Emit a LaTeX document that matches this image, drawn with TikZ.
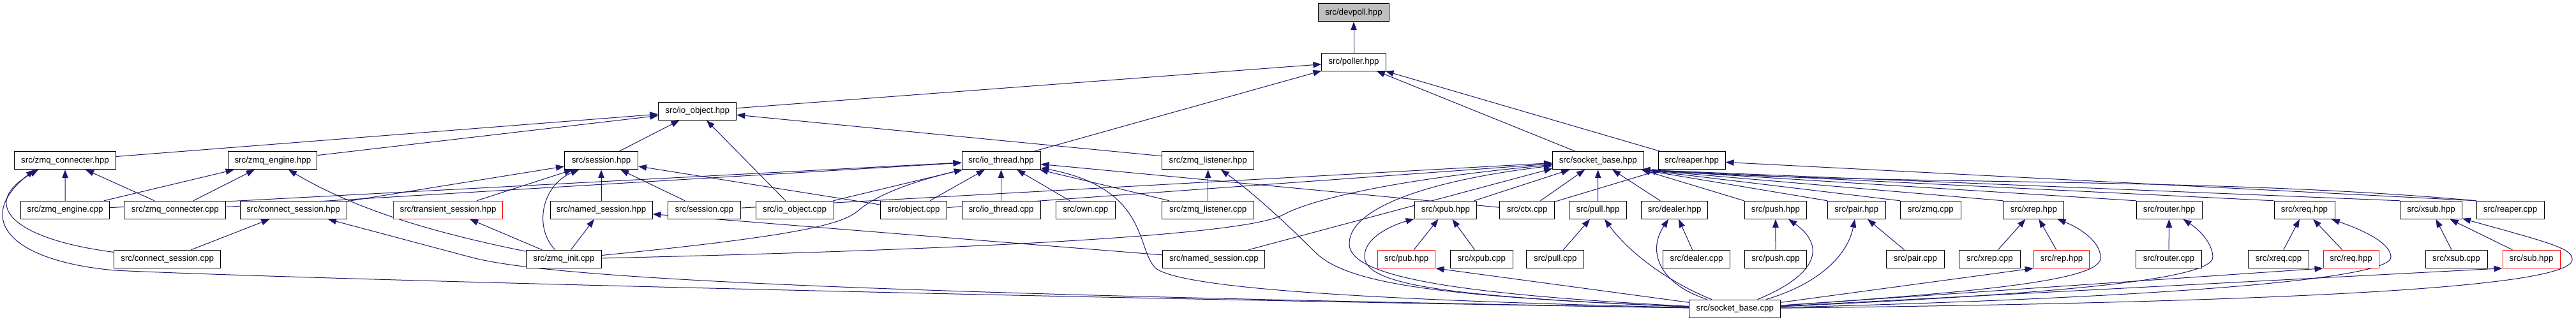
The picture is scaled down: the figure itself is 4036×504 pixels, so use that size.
\documentclass[tikz,border=0pt]{standalone}
\usepackage{fontspec}
\setmainfont{Liberation Sans}
\usetikzlibrary{arrows.meta}
\definecolor{edgecol}{HTML}{191970}
\definecolor{hilite}{HTML}{BFBFBF}
\pgfdeclarelayer{bg}
\pgfdeclarelayer{edges}
\pgfsetlayers{bg,edges,main}
\begin{document}
\begin{tikzpicture}[x=1pt,y=-1pt,
  box/.style={draw=black, line width=1pt, fill=white, minimum height=28pt, inner sep=0pt, font=\fontsize{13.3}{16}\selectfont},
  redbox/.style={box, draw=red},
  edge/.style={draw=edgecol, line width=1pt, -{Triangle[length=13pt,width=9.5pt]}}]
\begin{pgfonlayer}{bg}
\fill[white] (0,0) rectangle (4036,504);
\end{pgfonlayer}
\useasboundingbox (0,0) rectangle (4036,504);
% row 0-2
\node[box,fill=hilite,minimum width=110.5pt] (devpoll) at (2121,19.7) {src/devpoll.hpp};
\node[box,minimum width=100.3pt] (poller) at (2121,97) {src/poller.hpp};
\node[box,minimum width=122pt] (ioobjh) at (1092.7,174.3) {src/io\_object.hpp};
% row 3
\node[box,minimum width=159pt] (zconh) at (102,251.7) {src/zmq\_connecter.hpp};
\node[box,minimum width=139pt] (zengh) at (427.4,251.7) {src/zmq\_engine.hpp};
\node[box,minimum width=115pt] (sessh) at (942,251.7) {src/session.hpp};
\node[box,minimum width=123pt] (iothrh) at (1568.5,251.7) {src/io\_thread.hpp};
\node[box,minimum width=143.5pt] (zlish) at (1892.7,251.7) {src/zmq\_listener.hpp};
\node[box,minimum width=142.4pt] (sbh) at (2503.8,251.7) {src/socket\_base.hpp};
\node[box,minimum width=105pt] (reaph) at (2650.5,251.7) {src/reaper.hpp};
% row 4
\node[box,minimum width=139pt] (zengc) at (102.1,329.3) {src/zmq\_engine.cpp};
\node[box,minimum width=159pt] (zconc) at (274.3,329.3) {src/zmq\_connecter.cpp};
\node[box,minimum width=167pt] (csessh) at (459.5,329.3) {src/connect\_session.hpp};
\node[redbox,minimum width=171pt] (tsessh) at (702,329.3) {src/transient\_session.hpp};
\node[box,minimum width=160pt] (nsessh) at (942,329.3) {src/named\_session.hpp};
\node[box,minimum width=114.8pt] (sessc) at (1103.4,329.3) {src/session.cpp};
\node[box,minimum width=122pt] (ioobjc) at (1245,329.3) {src/io\_object.cpp};
\node[box,minimum width=104.8pt] (objc) at (1431.4,329.3) {src/object.cpp};
\node[box,minimum width=123pt] (iothrc) at (1568.5,329.3) {src/io\_thread.cpp};
\node[box,minimum width=93.6pt] (ownc) at (1700.8,329.3) {src/own.cpp};
\node[box,minimum width=143.5pt] (zlisc) at (1892.7,329.3) {src/zmq\_listener.cpp};
\node[box,minimum width=97.6pt] (xpubh) at (2264.9,329.3) {src/xpub.hpp};
\node[box,minimum width=86pt] (ctxc) at (2392.7,329.3) {src/ctx.cpp};
\node[box,minimum width=89.7pt] (pullh) at (2503.5,329.3) {src/pull.hpp};
\node[box,minimum width=103.6pt] (dealh) at (2623.6,329.3) {src/dealer.hpp};
\node[box,minimum width=97.7pt] (pushh) at (2781.9,329.3) {src/push.hpp};
\node[box,minimum width=90.5pt] (pairh) at (2908.8,329.3) {src/pair.hpp};
\node[box,minimum width=94.5pt] (zmqc) at (3024.8,329.3) {src/zmq.cpp};
\node[box,minimum width=95pt] (xreph) at (3186.3,329.3) {src/xrep.hpp};
\node[box,minimum width=103pt] (routh) at (3398.5,329.3) {src/router.hpp};
\node[box,minimum width=95pt] (xreqh) at (3610.5,329.3) {src/xreq.hpp};
\node[box,minimum width=97pt] (xsubh) at (3809,329.3) {src/xsub.hpp};
\node[box,minimum width=106pt] (reapc) at (3933,329.3) {src/reaper.cpp};
% row 5
\node[box,minimum width=167pt] (csessc) at (262.2,406.3) {src/connect\_session.cpp};
\node[box,minimum width=118.7pt] (zinitc) at (883.4,406.3) {src/zmq\_init.cpp};
\node[box,minimum width=160pt] (nsessc) at (1901.9,406.3) {src/named\_session.cpp};
\node[redbox,minimum width=90.7pt] (pubh) at (2203.6,406.3) {src/pub.hpp};
\node[box,minimum width=97.6pt] (xpubc) at (2321.2,406.3) {src/xpub.cpp};
\node[box,minimum width=89.7pt] (pullc) at (2436.8,406.3) {src/pull.cpp};
\node[box,minimum width=104.5pt] (dealc) at (2658,406.3) {src/dealer.cpp};
\node[box,minimum width=97.3pt] (pushc) at (2782,406.3) {src/push.cpp};
\node[box,minimum width=91pt] (pairc) at (3000.9,406.3) {src/pair.cpp};
\node[box,minimum width=95.5pt] (xrepc) at (3117.4,406.3) {src/xrep.cpp};
\node[redbox,minimum width=87.5pt] (reph) at (3230,406.3) {src/rep.hpp};
\node[box,minimum width=103pt] (routc) at (3398,406.3) {src/router.cpp};
\node[box,minimum width=94.5pt] (xreqc) at (3570,406.3) {src/xreq.cpp};
\node[redbox,minimum width=87pt] (reqh) at (3683.5,406.3) {src/req.hpp};
\node[box,minimum width=97pt] (xsubc) at (3848.5,406.3) {src/xsub.cpp};
\node[redbox,minimum width=90pt] (subh) at (3966,406.3) {src/sub.hpp};
% row 6
\node[box,minimum width=142.8pt] (sbc) at (2718.3,484) {src/socket\_base.cpp};

\begin{pgfonlayer}{edges}
\draw[edge] (poller) -- (devpoll);
\draw[edge] (ioobjh) -- (poller);
\draw[edge] (iothrh) -- (poller);
\draw[edge] (sbh) -- (poller);
\draw[edge] (reaph) -- (poller);
\draw[edge] (sessh) -- (ioobjh);
\draw[edge] (ioobjc) -- (ioobjh);
\draw[edge] (zconh) -- (ioobjh);
\draw[edge] (zengh) -- (ioobjh);
\draw[edge] (zlish) -- (ioobjh);
\draw[edge] (zengc) -- (zconh);
\draw[edge] (zconc) -- (zconh);
\draw[edge] (csessc) .. controls (20,375) and (-35,320) .. ([xshift=38pt]zconh.south west);
\draw[edge] (sbc) .. controls (1500,465) and (400,435) .. (180,424) .. controls (20,410) and (-45,345) .. ([xshift=32pt]zconh.south west);
\draw[edge] (zengc) -- (zengh);
\draw[edge] (zconc) -- (zengh);
\draw[edge] (zinitc) .. controls (680,365) and (560,330) .. (zengh);
\draw[edge] (zengc) -- (iothrh);
\draw[edge] (zconc) -- (iothrh);
\draw[edge] (csessh) -- (sessh);
\draw[edge] (tsessh) -- (sessh);
\draw[edge] (zinitc) .. controls (835,355) and (850,290) .. (sessh);
\draw[edge] (nsessh) -- (sessh);
\draw[edge] (sessc) -- (sessh);
\draw[edge] (objc) -- (sessh);
\draw[edge] (csessc) -- (csessh);
\draw[edge] (sbc) .. controls (1300,460) and (860,435) .. (740,404) -- (csessh);
\draw[edge] (zinitc) -- (tsessh);
\draw[edge] (zinitc) -- (nsessh);
\draw[edge] (nsessc) -- (nsessh);
\draw[edge] (objc) -- (iothrh);
\draw[edge] (ioobjc) -- (iothrh);
\draw[edge] (zinitc) .. controls (1250,370) and (1320,352) .. (1345,330) .. controls (1380,300) and (1450,280) .. (iothrh);
\draw[edge] (iothrc) -- (iothrh);
\draw[edge] (ownc) -- (iothrh);
\draw[edge] (zlisc) -- (iothrh);
\draw[edge] (ctxc) -- (iothrh);
\draw[edge] (sbc) .. controls (2200,472) and (1850,455) .. (1810,420) .. controls (1780,390) and (1800,295) .. (iothrh);
\draw[edge] (zlisc) -- (zlish);
\draw[edge] (sbc) .. controls (2250,465) and (2110,445) .. (2060,395) .. controls (2010,345) and (1960,300) .. (zlish);
\draw[edge] (sessc) -- (sbh);
\draw[edge] (objc) -- (sbh);
\draw[edge] (zinitc) .. controls (1500,392) and (1950,370) .. (2010,337) .. controls (2060,310) and (2200,280) .. (sbh);
\draw[edge] (nsessc) -- (sbh.190);
\draw[edge] (sbc) .. controls (2250,460) and (2110,430) .. (2114,380) .. controls (2118,320) and (2260,280) .. (sbh);
\draw[edge] (xpubh) -- (sbh);
\draw[edge] (ctxc) -- (sbh);
\draw[edge] (pullh) -- (sbh);
\draw[edge] (dealh) -- (sbh);
\draw[edge] (pushh.north west) -- (sbh.-12);
\draw[edge] (pairh.north west) -- (sbh.-12);
\draw[edge] (zmqc.north west) -- (sbh.-12);
\draw[edge] (xreph.north west) -- (sbh.-12);
\draw[edge] (routh.north west) -- (sbh.-12);
\draw[edge] (xreqh.north west) -- (sbh.-12);
\draw[edge] (xsubh.north west) -- (sbh.-12);
\draw[edge] (reapc.north west) .. controls (3450,276) and (2950,292) .. (sbh.-12);
\draw[edge] (ctxc) -- (reaph);
\draw[edge] (reapc.north west) -- (reaph);
% lower rows
\draw[edge] (pubh) -- (xpubh);
\draw[edge] (xpubc) -- (xpubh);
\draw[edge] (sbc) .. controls (2250,465) and (2135,445) .. (2138,400) .. controls (2140,370) and (2185,352) .. (xpubh);
\draw[edge] (sbc) -- (pubh.south east);
\draw[edge] (pullc) -- (pullh);
\draw[edge] (sbc) .. controls (2620,445) and (2555,400) .. (pullh);
\draw[edge] (dealc) -- (dealh);
\draw[edge] (sbc) .. controls (2600,445) and (2580,395) .. (dealh);
\draw[edge] (pushc) -- (pushh);
\draw[edge] (sbc) .. controls (2850,430) and (2860,385) .. (pushh);
\draw[edge] (pairc) -- (pairh);
\draw[edge] (sbc) .. controls (2850,445) and (2895,400) .. (pairh);
\draw[edge] (xrepc) -- (xreph);
\draw[edge] (reph) -- (xreph);
\draw[edge] (sbc) .. controls (3100,458) and (3290,440) .. (3291,405) .. controls (3292,380) and (3260,358) .. (xreph);
\draw[edge] (sbc) -- (reph.south west);
\draw[edge] (routc) -- (routh);
\draw[edge] (sbc) .. controls (3200,462) and (3468,440) .. (3467,403) .. controls (3466,380) and (3445,360) .. (routh);
\draw[edge] (xreqc) -- (xreqh);
\draw[edge] (reqh) -- (xreqh);
\draw[edge] (sbc) .. controls (3350,468) and (3748,440) .. (3746,403) .. controls (3745,380) and (3700,360) .. (xreqh);
\draw[edge] (sbc) -- (reqh.south west);
\draw[edge] (xsubc) -- (xsubh);
\draw[edge] (subh) -- (xsubh);
\draw[edge] (sbc) .. controls (3500,475) and (4030,455) .. (4030,407) .. controls (4030,390) and (4000,382) .. (xsubh);
\draw[edge] (sbc) -- (subh.south west);
\end{pgfonlayer}
\end{tikzpicture}
\end{document}
